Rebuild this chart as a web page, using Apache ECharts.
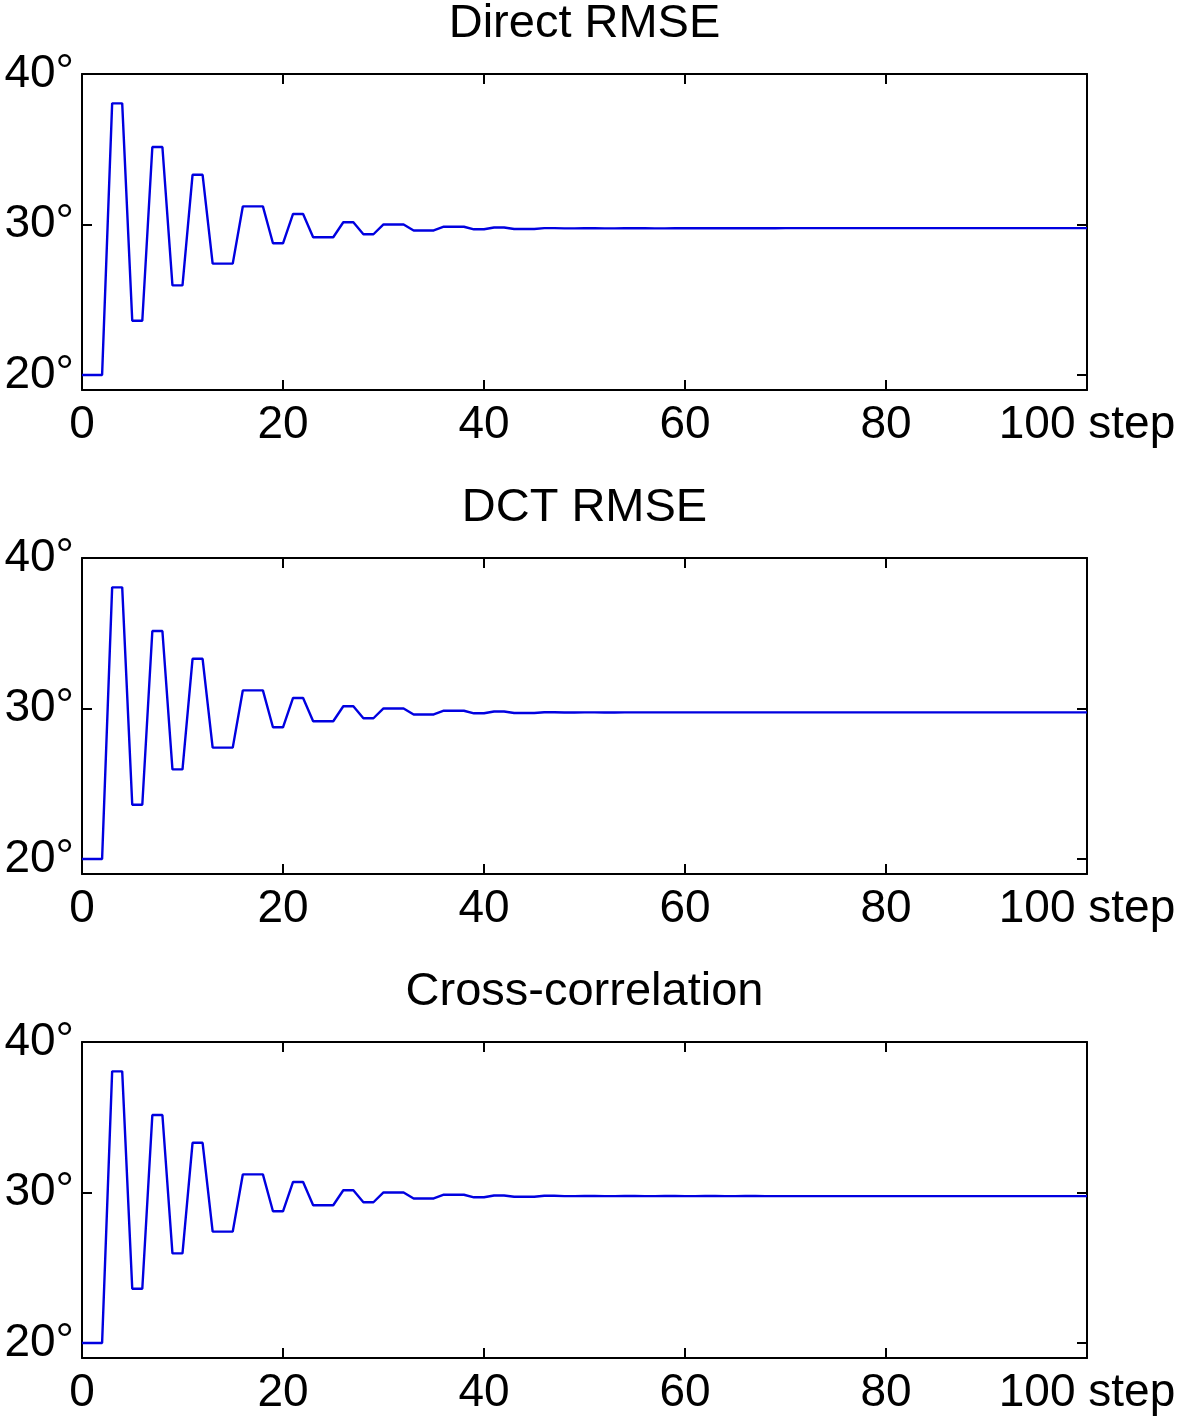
<!DOCTYPE html>
<html>
<head>
<meta charset="utf-8">
<script src="https://cdn.jsdelivr.net/npm/echarts@6/dist/echarts.min.js"></script>
<style>
  html, body { margin: 0; padding: 0; background: #fff; }
  #chart { width: 1181px; height: 1419px; }
</style>
</head>
<body>
<div id="chart"></div>
<script>
// ---- Data ----
var panelTitles = ['Direct RMSE', 'DCT RMSE', 'Cross-correlation'];
var xTicks = [0, 20, 40, 60, 80, 100];
var yTicks = [20, 30, 40];

var directRmse = [
  20, 20, 20, 38.05, 38.05, 23.6, 23.6, 35.15, 35.15, 25.95,
  25.95, 33.3, 33.3, 27.4, 27.4, 27.4, 31.2, 31.2, 31.2, 28.75,
  28.75, 30.7, 30.7, 29.15, 29.15, 29.15, 30.15, 30.15, 29.35, 29.35,
  30.0, 30.0, 30.0, 29.6, 29.6, 29.6, 29.85, 29.85, 29.85, 29.68,
  29.68, 29.8, 29.8, 29.7, 29.7, 29.7, 29.76, 29.76, 29.74, 29.74,
  29.75, 29.75, 29.74, 29.74, 29.75, 29.75, 29.75, 29.74, 29.74, 29.75,
  29.75, 29.75, 29.75, 29.75, 29.75, 29.75, 29.75, 29.75, 29.75, 29.75,
  29.76, 29.76, 29.76, 29.76, 29.76, 29.76, 29.76, 29.76, 29.76, 29.76,
  29.76, 29.76, 29.76, 29.76, 29.76, 29.76, 29.76, 29.76, 29.76, 29.76,
  29.76, 29.76, 29.76, 29.76, 29.76, 29.76, 29.76, 29.76, 29.76, 29.76,
  29.76
];
var dctRmse = [
  20, 20, 20, 38.05, 38.05, 23.6, 23.6, 35.15, 35.15, 25.95,
  25.95, 33.3, 33.3, 27.4, 27.4, 27.4, 31.2, 31.2, 31.2, 28.75,
  28.75, 30.7, 30.7, 29.15, 29.15, 29.15, 30.15, 30.15, 29.35, 29.35,
  30.0, 30.0, 30.0, 29.6, 29.6, 29.6, 29.85, 29.85, 29.85, 29.68,
  29.68, 29.8, 29.8, 29.7, 29.7, 29.7, 29.75, 29.75, 29.73, 29.73,
  29.74, 29.74, 29.73, 29.73, 29.74, 29.74, 29.74, 29.74, 29.74, 29.74,
  29.74, 29.74, 29.74, 29.74, 29.74, 29.74, 29.74, 29.74, 29.74, 29.74,
  29.74, 29.74, 29.74, 29.74, 29.74, 29.74, 29.74, 29.74, 29.74, 29.74,
  29.74, 29.74, 29.74, 29.74, 29.74, 29.74, 29.74, 29.74, 29.74, 29.74,
  29.74, 29.74, 29.74, 29.74, 29.74, 29.74, 29.74, 29.74, 29.74, 29.74,
  29.74
];
var crossCorr = [
  20, 20, 20, 38.05, 38.05, 23.6, 23.6, 35.15, 35.15, 25.95,
  25.95, 33.3, 33.3, 27.4, 27.4, 27.4, 31.2, 31.2, 31.2, 28.75,
  28.75, 30.7, 30.7, 29.15, 29.15, 29.15, 30.15, 30.15, 29.35, 29.35,
  30.0, 30.0, 30.0, 29.6, 29.6, 29.6, 29.85, 29.85, 29.85, 29.68,
  29.68, 29.8, 29.8, 29.72, 29.72, 29.72, 29.78, 29.78, 29.76, 29.76,
  29.77, 29.77, 29.76, 29.76, 29.77, 29.77, 29.76, 29.76, 29.77, 29.77,
  29.76, 29.76, 29.77, 29.77, 29.76, 29.76, 29.77, 29.77, 29.76, 29.76,
  29.76, 29.76, 29.76, 29.76, 29.76, 29.76, 29.76, 29.76, 29.76, 29.76,
  29.76, 29.76, 29.76, 29.76, 29.76, 29.76, 29.76, 29.76, 29.76, 29.76,
  29.76, 29.76, 29.76, 29.76, 29.76, 29.76, 29.76, 29.76, 29.76, 29.76,
  29.76
];
var panelSeries = [directRmse, dctRmse, crossCorr];

// ---- Layout ----
var FONT = 'Liberation Sans, Arial, sans-serif';
var gridTops = [74, 558, 1042];
var gridHeight = 316;
var gridLeft = 82, gridRight = 94;
var plotCenterX = gridLeft + (1181 - gridLeft - gridRight) / 2;

var chart = echarts.init(document.getElementById('chart'), null, { renderer: 'canvas' });

var grids = [], xAxes = [], yAxes = [], series = [], graphics = [];
var lineStyleAxis = { color: '#000', width: 2 };

panelSeries.forEach(function (vals, i) {
  grids.push({ left: gridLeft, right: gridRight, top: gridTops[i], height: gridHeight, containLabel: false });
  ['bottom', 'top'].forEach(function (pos, k) {
    xAxes.push({
      gridIndex: i, type: 'value', position: pos, min: 0, max: 100, interval: 20,
      axisLine: { show: true, onZero: false, lineStyle: lineStyleAxis },
      axisTick: { show: true, inside: true, length: 10, lineStyle: lineStyleAxis },
      axisLabel: {
        show: k === 0, color: '#000', fontSize: 46, fontFamily: FONT, margin: 12,
        showMinLabel: true, showMaxLabel: true,
        formatter: function (v) { return v === 100 ? '100 step' : String(v); }
      },
      splitLine: { show: false }
    });
  });
  ['left', 'right'].forEach(function (pos, k) {
    yAxes.push({
      gridIndex: i, type: 'value', position: pos, min: 19, max: 40,
      axisLine: { show: true, onZero: false, lineStyle: lineStyleAxis },
      axisTick: { show: true, inside: true, length: 10, lineStyle: lineStyleAxis, customValues: yTicks },
      axisLabel: {
        show: k === 0, color: '#000', fontSize: 46, fontFamily: FONT, margin: 8,
        customValues: yTicks,
        formatter: function (v) { return v + '°'; }
      },
      splitLine: { show: false }
    });
  });
  series.push({
    type: 'line', xAxisIndex: i * 2, yAxisIndex: i * 2,
    data: vals.map(function (v, step) { return [step, v]; }),
    showSymbol: false, symbol: 'none',
    lineStyle: { color: '#0000e0', width: 2.4 },
    animation: false
  });
  graphics.push({
    type: 'text', x: plotCenterX, y: gridTops[i] - 37 - 12.5,
    style: { text: panelTitles[i], fill: '#000', font: '47px ' + FONT, align: 'center', verticalAlign: 'middle' }
  });
});

chart.setOption({
  backgroundColor: '#fff',
  animation: false,
  grid: grids,
  xAxis: xAxes,
  yAxis: yAxes,
  series: series,
  graphic: graphics
});
</script>
</body>
</html>
